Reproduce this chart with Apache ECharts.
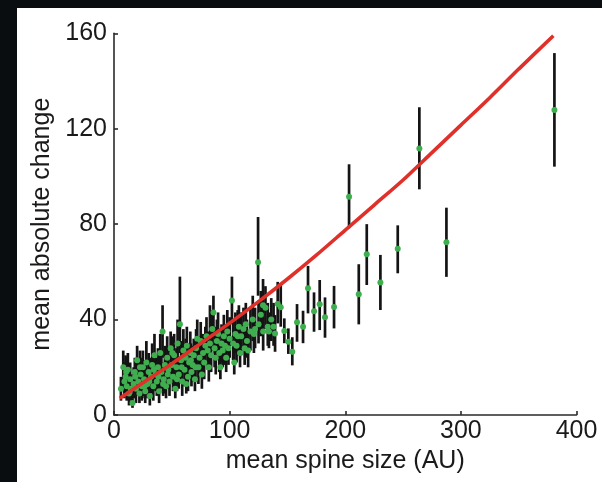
<!DOCTYPE html>
<html>
<head>
<meta charset="utf-8">
<script src="https://cdn.jsdelivr.net/npm/echarts@6/dist/echarts.min.js"></script>
<style>
html,body{margin:0;padding:0;background:#0a0d10;}
#chart{width:602px;height:482px;}
</style>
</head>
<body>
<div id="chart"></div>
<script>
// mean spine size (AU)
const sizeX = [
  6,8,9,10,11,12,13,14,16,17,18,19,20,21,22,23,24,25,26,27,28,29,30,31,32,33,34,35,36,37,38,39,40,41,
  42,43,44,45,46,47,48,49,50,51,52,53,54,55,56,57,58,59,60,61,62,63,64,65,66,67,68,69,70,71,72,73,74,75,76,77,78,79,80,81,
  82,83,84,85,86,87,88,89,90,91,92,93,94,95,96,97,98,99,100,102,103,104,105,106,107,108,109,110,112,113,114,115,116,118,120,121,122,124.6,125,127,128.9,129,131,133,134,136,138,139.3,141.6,144.2,
  10.5,14.5,18.5,22.5,26.5,30.5,34.5,38.5,42.5,46.5,50.5,54.5,58.5,62.5,66.5,70.5,
  147.3,150.8,154.2,158.3,163.5,167.8,173,177.9,182.5,190.3,203.3,211.7,218.6,230.4,245.4,264.1,287.5,380.9
];
// mean absolute change
const meanChange = [
  11,20,14,16,12,19,9,15,5,13,18,11,23,14,9,17,12,20,15,10,22,13,18,8,16,21,12,25,17,14,20,10,26,18,
  35,15,21,12,24,19,14,28,21,16,25,11,20,30,17,38,23,14,27,19,24,29,16,22,26,18,21,25,15,28,32,20,24,31,17,26,22,29,33,27,
  20,30,25,36,43,28,24,31,34,26,20,30,27,33,29,24,35,28,32,48,30,22,34,29,33,37,26,33,36,28,38,31,27,35,40,34,36,64,38,42,46,35,45,37,35,40,37,34.2,46.5,45.2,
  18,11,16,20,12,14,19,16,13,17,26,15,20,13,23,20,
  35.2,30.7,26.5,38.9,37,53.1,43.5,46.4,41,45.3,91.5,50.6,67.4,55.5,69.7,111.7,72.4,127.9
];
// error bar lower ends
const errLow = [
  6,10,7,9,6,11,4,8,3,7,10,5,14,8,5,10,6,13,8,5,14,7,11,4,9,12,6,16,10,8,12,5,16,11,
  24,9,13,7,16,12,8,18,14,10,17,7,13,20,11,26,15,8,18,12,17,20,10,15,18,12,14,17,10,20,23,13,17,22,11,19,15,21,25,19,
  14,22,18,27,32,20,17,23,25,18,15,22,20,25,21,18,26,21,24,38,23,17,26,22,25,28,20,25,27,21,29,24,20,27,31,26,28,50,30,33,37,27,36,29,28,31,29,26.5,38.4,37,
  11,6,9,13,7,8,12,10,8,11,18,10,14,9,16,14,
  30.1,25.6,20.8,30.7,30.1,42.6,34.9,35.6,32.4,36.3,78.3,38,54.5,44,59.4,94.6,57.9,104.1
];
// error bar upper ends
const errHigh = [
  16,27,22,25,19,26,15,22,9,20,24,17,29,22,14,24,19,27,23,17,31,19,26,14,24,30,19,34,24,21,28,16,34,25,
  46,22,29,19,33,27,21,35,29,24,34,17,28,40,24,58,31,20,36,27,32,37,23,30,35,25,29,32,22,36,40,28,33,39,25,34,30,37,41,35,
  28,46,34,44,50,37,31,40,43,35,26,38,36,42,38,32,44,37,41,58,39,28,43,37,44,46,34,43,45,37,47,40,35,45,50,43,45,83,48,52,57,44,54,47,43,49,47,41.9,55.8,55.2,
  24,17,22,27,18,21,25,23,19,24,33,21,27,19,30,27,
  40.5,36.3,32.6,46.5,43.7,62.5,51.4,56.6,49.3,54.1,105.1,63.2,80,67.1,79.5,129,86.9,151.7
];
// fitted curve
const fitX = [5,25,50,75,100,125,150,175,200,225,250,275,300,325,350,380];
const fitY = [7,13.5,21.5,30,38.5,47.5,57,67,77.5,88,98.5,110,121.5,133,145,159];

const xTicks = [0,100,200,300,400];
const yTicks = [0,40,80,120,160];

const pts = sizeX.map((x,i)=>[x, meanChange[i]]);
const bars = sizeX.map((x,i)=>[x, errLow[i], errHigh[i]]);
const fit = fitX.map((x,i)=>[x, fitY[i]]);

const chart = echarts.init(document.getElementById('chart'), null, {renderer:'canvas'});
const font = "'Liberation Sans', Arial, Helvetica, sans-serif";
chart.setOption({
  backgroundColor: '#0a0d10',
  animation: false,
  graphic: [{type:'rect', z:-10, shape:{x:17,y:8,width:585,height:474}, style:{fill:'#ffffff'}}],
  grid: {left:114, right:25.5, top:33.3, bottom:67, containLabel:false},
  xAxis: {
    type:'value', min:xTicks[0], max:xTicks[xTicks.length-1], interval:100,
    name:'mean spine size (AU)', nameLocation:'middle', nameGap:31,
    nameTextStyle:{fontFamily:font, fontSize:25, color:'#1a1a1a'},
    axisLine:{show:true, lineStyle:{color:'#2a2a2a', width:1.6}},
    axisTick:{show:true, inside:true, length:4, lineStyle:{color:'#2a2a2a', width:1.6}},
    axisLabel:{fontFamily:font, fontSize:25, color:'#1a1a1a', margin:4},
    splitLine:{show:false}
  },
  yAxis: {
    type:'value', min:yTicks[0], max:yTicks[yTicks.length-1], interval:40,
    name:'mean absolute change', nameLocation:'middle', nameGap:56, nameRotate:90,
    nameTextStyle:{fontFamily:font, fontSize:25, color:'#1a1a1a'},
    axisLine:{show:true, lineStyle:{color:'#2a2a2a', width:1.6}},
    axisTick:{show:true, inside:true, length:4, lineStyle:{color:'#2a2a2a', width:1.6}},
    axisLabel:{fontFamily:font, fontSize:25, color:'#1a1a1a', margin:7},
    splitLine:{show:false}
  },
  series: [
    {
      type:'custom', z:2,
      data: bars,
      encode:{x:0, y:[1,2]},
      renderItem: function(params, api){
        const x = api.value(0);
        const p1 = api.coord([x, api.value(1)]);
        const p2 = api.coord([x, api.value(2)]);
        return {type:'line', shape:{x1:p1[0], y1:p1[1], x2:p2[0], y2:p2[1]},
                style:{stroke:'#141414', lineWidth:2.7}};
      }
    },
    {
      type:'scatter', z:3, data: pts, symbolSize:6,
      itemStyle:{color:'#3fae4f', opacity:1}
    },
    {
      type:'line', z:4, data: fit, smooth:0.3, showSymbol:false,
      lineStyle:{color:'#e0302a', width:3.6}
    }
  ]
});
</script>
</body>
</html>
